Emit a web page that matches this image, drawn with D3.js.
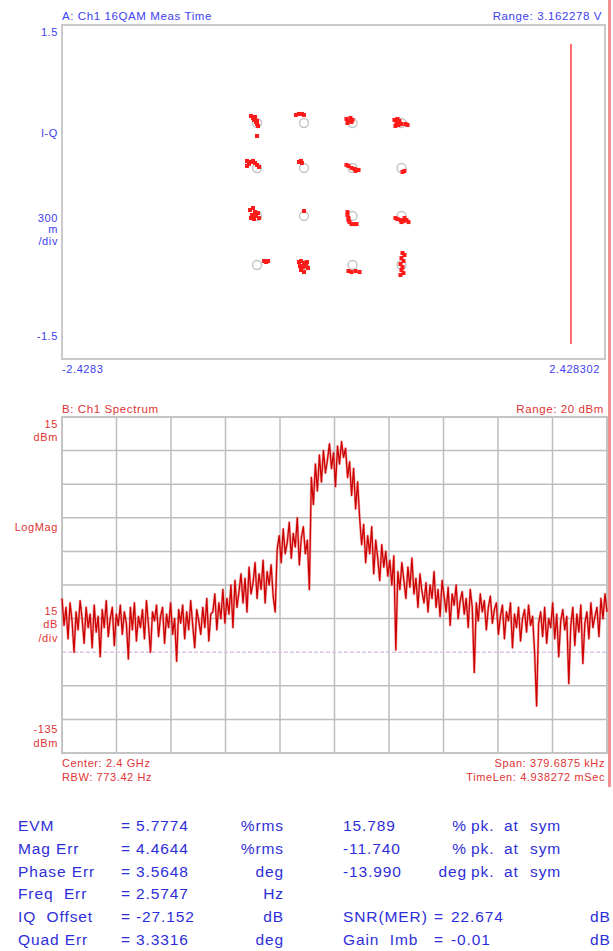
<!DOCTYPE html>
<html>
<head>
<meta charset="utf-8">
<script src="https://cdn.jsdelivr.net/npm/d3@7"></script>
<style>
  body { margin: 0; background: #fff; }
  svg text { font-family: "Liberation Sans", Arial, sans-serif; white-space: pre; }
</style>
</head>
<body>
<div id="chart"></div>
<script>
// ---- constellation (panel A) ----
const idealI = [-0.684, -0.264, 0.170, 0.608];
const idealQ = [0.620, 0.216, -0.216, -0.656];
// measured symbol errors [dI, dQ] around each ideal point, row by row (top row first)
const symErr = [
  [[-0.054,0.063],[-0.036,0.045],[-0.027,0.027],[-0.009,0.009],[0,-0.009],[0.009,-0.027],[-0.018,0.054],[0,0.018],[0,-0.117]],
  [[-0.072,0.072],[-0.045,0.081],[-0.018,0.081],[0,0.072]],
  [[-0.054,0.036],[-0.036,0.018],[-0.018,0.045],[-0.045,0],[-0.009,0.009],[0,0.027]],
  [[-0.063,0.027],[-0.045,0],[-0.027,-0.018],[-0.054,-0.027],[-0.018,0.018],[0,-0.009],[0.036,-0.009],[0.054,-0.018],[-0.036,0.036]],
  [[-0.09,0.063],[-0.072,0.036],[-0.054,0.054],[-0.036,0.063],[-0.018,0.045],[-0.09,0.018],[0,0.027],[0.018,0.009]],
  [[-0.045,0.054],[-0.027,0.063],[-0.018,0.045]],
  [[-0.054,0.027],[-0.036,0.018],[-0.009,0],[0.018,-0.009],[0.036,-0.018],[0.054,-0.018],[0.027,-0.027]],
  [[0.009,-0.036],[0.027,-0.027]],
  [[-0.063,0.054],[-0.036,0.072],[-0.018,0.036],[-0.045,0.009],[-0.009,0],[0.018,-0.018],[-0.027,-0.027],[0.009,0.027],[-0.054,-0.018]],
  [[0,0.045]],
  [[-0.045,0.036],[-0.045,0.009],[-0.036,-0.018],[-0.027,-0.054],[-0.009,-0.072],[0.018,-0.072],[0.036,-0.072],[-0.036,-0.036]],
  [[-0.054,-0.018],[-0.036,-0.027],[-0.009,-0.036],[0.018,-0.045],[0.045,-0.036],[0.063,-0.054],[0,-0.054],[0.027,-0.018]],
  [[0.063,0.036],[0.081,0.027],[0.099,0.036]],
  [[-0.045,0.027],[-0.027,0.036],[0,0.018],[0.027,0.027],[-0.036,-0.009],[-0.009,-0.018],[0.018,-0.009],[-0.027,-0.045],[0,-0.063],[0.036,-0.027]],
  [[-0.036,-0.054],[-0.009,-0.063],[0.027,-0.054],[0.063,-0.063]],
  [[0.009,0.108],[0.027,0.09],[0,0.063],[0.018,0.036],[-0.009,0.009],[0.009,-0.018],[0,-0.045],[0.018,-0.072],[-0.009,-0.09]]
];
const iRange = [-2.4283, 2.428302];
const qRange = [-1.5, 1.5];
const markerI = 2.124;
const markerQ = [1.33, -1.366];

// ---- spectrum (panel B), dBm across the span ----
const specRange = [-135, 15];
const specDbm = [
  -66, -78, -70, -84, -68, -76, -90, -72, -80, -67,
  -75, -86, -70, -79, -73, -88, -69, -81, -74, -92,
  -71, -79, -67, -83, -75, -70, -87, -73, -78, -69,
  -82, -72, -77, -93, -70, -80, -68, -85, -74, -79,
  -71, -84, -67, -78, -90, -72, -76, -69, -83, -74,
  -70, -86, -73, -79, -68, -82, -75, -94, -71, -77,
  -69, -84, -72, -80, -67, -78, -88, -71, -76, -82,
  -70, -79, -66, -85, -73, -72, -64, -80, -68, -75,
  -62, -77, -66, -73, -60, -79, -58, -70, -63, -55,
  -68, -57, -72, -52, -64, -59, -50, -66, -55, -62,
  -49, -68, -54, -60, -51, -65, -72, -44, -38, -50,
  -35, -46, -41, -32, -48, -37, -43, -30, -51, -39,
  -34, -46, -40, -62, -12, -24, -6, -18, -2, -14,
  0, -10, -4, 3, -8, -1, -16, 2, -6, 4,
  -3, 1, -12, -5, -20, -8, -26, -14, -30, -42,
  -33, -50, -38, -46, -34, -55, -40, -48, -58, -42,
  -52, -45, -56, -49, -60, -47, -89, -54, -62, -50,
  -58, -66, -52, -61, -48, -64, -57, -70, -55, -63,
  -68, -59, -72, -60, -66, -54, -70, -62, -74, -58,
  -65, -72, -61, -78, -64, -69, -60, -75, -67, -63,
  -73, -66, -79, -62, -70, -99, -68, -76, -64, -72,
  -67, -80, -70, -65, -77, -71, -68, -82, -74, -69,
  -84, -72, -76, -68, -88, -73, -79, -70, -85, -75,
  -71, -81, -69, -78, -74, -90, -114, -77, -72, -83,
  -70, -86, -75, -79, -68, -84, -73, -92, -76, -71,
  -80, -74, -104, -78, -70, -87, -73, -81, -69, -95,
  -77, -72, -84, -68, -79, -74, -70, -83, -66, -75,
  -64, -72
];
const refLevel = -90;

// ---- measurement table ----
const measLabels = ["EVM", "Mag Err", "Phase Err", "Freq  Err", "IQ  Offset", "Quad Err"];
const measValues = ["5.7774", "4.4644", "3.5648", "2.5747", "-27.152", "3.3316"];
const measUnits = ["%rms", "%rms", "deg", "Hz", "dB", "deg"];
const pkValues = ["15.789", "-11.740", "-13.990"];
const pkUnits = ["%", "%", "deg"];
const extraLabels = ["SNR(MER)", "Gain  Imb"];
const extraValues = ["22.674", "-0.01"];
const extraUnits = ["dB", "dB"];

const W = 613, H = 951;
const BLUE = "#4040f0", RED = "#e03434", TBLUE = "#2e2ed8";

const svg = d3.select("#chart").append("svg")
    .attr("width", W)
    .attr("height", H);

// pink bar on the right edge
svg.append("rect")
    .attr("x", 608).attr("y", 0)
    .attr("width", 3).attr("height", 787)
    .attr("fill", "#f49090");

function label(x, y, txt, color, anchor, size) {
    return svg.append("text")
        .attr("x", x).attr("y", y)
        .attr("fill", color)
        .attr("text-anchor", anchor || "start")
        .style("font-size", (size || 11) + "px")
        .style("letter-spacing", "0.6px")
        .text(txt);
}

// ===== Panel A =====
const a = {left: 62, right: 605, top: 25, bottom: 359};
const xIQ = d3.scaleLinear().domain(iRange).range([a.left, a.right]);
const yIQ = d3.scaleLinear().domain(qRange).range([a.bottom, a.top]);

svg.append("rect")
    .attr("x", a.left).attr("y", a.top)
    .attr("width", a.right - a.left).attr("height", a.bottom - a.top)
    .attr("fill", "none").attr("stroke", "#cacaca").attr("stroke-width", 2);

label(62, 20, "A: Ch1 16QAM Meas Time", BLUE, "start", 11.5);
label(602, 20, "Range: 3.162278 V", BLUE, "end", 11.5);
label(58, 36, "1.5", BLUE, "end");
label(58, 137, "I-Q", BLUE, "end");
label(58, 222, "300", BLUE, "end");
label(58, 233, "m", BLUE, "end");
label(58, 245, "/div", BLUE, "end");
label(58, 340, "-1.5", BLUE, "end");
label(62, 373, "-2.4283", BLUE, "start");
label(600, 373, "2.428302", BLUE, "end");

// ideal points (grey rings) and measured symbols (red)
const ideal = [];
idealQ.forEach((q, r) => idealI.forEach((i, c) => ideal.push({i: i, q: q, k: r * 4 + c})));

svg.append("g").selectAll("circle")
    .data(ideal)
    .enter().append("circle")
    .attr("cx", d => xIQ(d.i))
    .attr("cy", d => yIQ(d.q))
    .attr("r", 4.5)
    .attr("fill", "none")
    .attr("stroke", "#c4c4c4")
    .attr("stroke-width", 1.4);

const meas = [];
ideal.forEach(p => symErr[p.k].forEach(e => meas.push({i: p.i + e[0], q: p.q + e[1]})));

svg.append("g").selectAll("rect")
    .data(meas)
    .enter().append("rect")
    .attr("x", d => xIQ(d.i) - 2)
    .attr("y", d => yIQ(d.q) - 2)
    .attr("width", 4).attr("height", 4)
    .attr("fill", "#ff1a1a");

svg.append("line")
    .attr("x1", xIQ(markerI)).attr("x2", xIQ(markerI))
    .attr("y1", yIQ(markerQ[0])).attr("y2", yIQ(markerQ[1]))
    .attr("stroke", "#ff6a6a").attr("stroke-width", 2);

// ===== Panel B =====
const b = {left: 62, right: 607, top: 417, bottom: 753};
const xS = d3.scaleLinear().domain([0, specDbm.length - 1]).range([b.left, b.right]);
const xDiv = d3.scaleLinear().domain([0, 10]).range([b.left, b.right]);
const yS = d3.scaleLinear().domain(specRange).range([b.bottom, b.top]);

label(62, 413, "B: Ch1 Spectrum", RED, "start", 11.5);
label(604, 413, "Range: 20 dBm", RED, "end", 11.5);

const grid = svg.append("g");
grid.selectAll(".vg")
    .data(d3.range(1, 10))
    .enter().append("line")
    .attr("x1", d => xDiv(d)).attr("x2", d => xDiv(d))
    .attr("y1", b.top).attr("y2", b.bottom)
    .attr("stroke", "#bdbdbd").attr("stroke-width", 1.5);
grid.selectAll(".hg")
    .data(d3.range(specRange[0] + 15, specRange[1], 15))
    .enter().append("line")
    .attr("x1", b.left).attr("x2", b.right)
    .attr("y1", d => yS(d)).attr("y2", d => yS(d))
    .attr("stroke", d => d === refLevel ? "#dcc4e4" : "#bdbdbd")
    .attr("stroke-width", 1.5)
    .attr("stroke-dasharray", d => d === refLevel ? "4,2" : null);

svg.append("rect")
    .attr("x", b.left).attr("y", b.top)
    .attr("width", b.right - b.left).attr("height", b.bottom - b.top)
    .attr("fill", "none").attr("stroke", "#c4c4c4").attr("stroke-width", 2);

const specLine = d3.line().x((d, i) => xS(i)).y(d => yS(d));
// soft halo under the trace, then the trace itself
svg.append("path")
    .datum(specDbm)
    .attr("fill", "none")
    .attr("stroke", "#ee7070")
    .attr("stroke-width", 2.6)
    .attr("stroke-opacity", 0.55)
    .attr("stroke-linejoin", "round")
    .attr("d", specLine);
svg.append("path")
    .datum(specDbm)
    .attr("fill", "none")
    .attr("stroke", "#cc0000")
    .attr("stroke-width", 1.3)
    .attr("stroke-linejoin", "round")
    .attr("d", specLine);

label(58, 428, "15", RED, "end");
label(58, 441, "dBm", RED, "end");
label(58, 531, "LogMag", RED, "end");
label(58, 615, "15", RED, "end");
label(58, 628, "dB", RED, "end");
label(58, 642, "/div", RED, "end");
label(58, 733, "-135", RED, "end");
label(58, 747, "dBm", RED, "end");
label(62, 767, "Center: 2.4 GHz", RED, "start");
label(62, 781, "RBW: 773.42 Hz", RED, "start");
label(605, 767, "Span: 379.6875 kHz", RED, "end");
label(605, 781, "TimeLen: 4.938272 mSec", RED, "end");

// ===== measurement table =====
const rowY = d3.scaleLinear().domain([0, 5]).range([831, 945]);
function tcell(x, r, txt, anchor) {
    svg.append("text")
        .attr("x", x).attr("y", rowY(r))
        .attr("fill", TBLUE)
        .attr("text-anchor", anchor || "start")
        .style("font-size", "15.5px")
        .style("letter-spacing", "0.9px")
        .text(txt);
}
measLabels.forEach((t, r) => {
    tcell(18, r, t);
    tcell(121, r, "=");
    tcell(136, r, measValues[r]);
    tcell(284, r, measUnits[r], "end");
});
pkValues.forEach((t, r) => {
    tcell(343, r, t);
    tcell(467, r, pkUnits[r], "end");
    tcell(471, r, "pk.");
    tcell(504, r, "at");
    tcell(530, r, "sym");
});
extraLabels.forEach((t, j) => {
    const r = 4 + j;
    tcell(343, r, t);
    tcell(434, r, "=");
    tcell(451, r, extraValues[j]);
    tcell(590, r, extraUnits[j]);
});
</script>
</body>
</html>
